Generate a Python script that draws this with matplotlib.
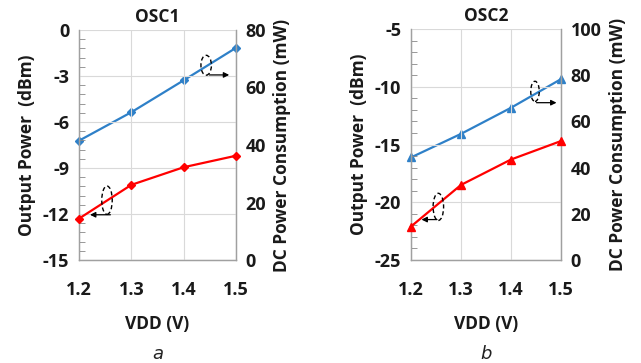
import matplotlib
matplotlib.use("Agg")
import matplotlib.pyplot as plt
from matplotlib.patches import Ellipse

plt.rcParams['font.family'] = ['Open Sans', 'DejaVu Sans']
plt.rcParams['font.weight'] = 'bold'
plt.rcParams['axes.labelweight'] = 'bold'
plt.rcParams['axes.titleweight'] = 'bold'

vdd = [1.2, 1.3, 1.4, 1.5]

# OSC1
osc1_pout = [-12.3, -10.1, -8.95, -8.2]   # dBm (left axis)
osc1_pdc = [41.5, 51.4, 62.5, 73.8]       # mW (right axis)

# OSC2
osc2_pout = [-22.1, -18.5, -16.3, -14.7]
osc2_pdc = [44.4, 54.6, 65.9, 78.3]

blue = "#2e80c8"
red = "#ff0000"
txt = "#1a1a1a"

fig = plt.figure(figsize=(6.41, 3.63), dpi=100)


def frange(a, b, step):
    out = []
    v = a
    while v <= b + 1e-9:
        out.append(round(v, 4))
        v += step
    return out


def make_panel(rect, pout, pdc, marker, msize, ylim_l, yticks_l, ylim_r, yticks_r,
               title, caption, ell_l, arr_l, ell_r, arr_r, minor_step):
    ax = fig.add_axes(rect)
    ax2 = ax.twinx()
    ax.set_zorder(ax2.get_zorder() + 1)
    ax.patch.set_visible(False)

    ax.plot(vdd, pout, color=red, lw=1.6, marker=marker, ms=msize, zorder=3, clip_on=False)
    ax2.plot(vdd, pdc, color=blue, lw=1.6, marker=marker, ms=msize, clip_on=False)

    ax.set_xlim(1.2, 1.5)
    ax.set_ylim(*ylim_l)
    ax.set_yticks(yticks_l)
    ax.set_yticklabels([str(v) for v in yticks_l])
    ax.set_yticks(frange(ylim_l[0], ylim_l[1], minor_step), minor=True)
    ax.set_xticks(vdd)
    ax.set_xticklabels(["1.2", "1.3", "1.4", "1.5"])
    ax2.set_ylim(*ylim_r)
    ax2.set_yticks(yticks_r)

    ax.grid(True, color="#d9d9d9", lw=0.8)
    ax.tick_params(axis='x', length=0, pad=15, labelsize=13, labelcolor=txt)
    ax.tick_params(axis='y', which='major', length=0, pad=7, labelsize=13, labelcolor=txt)
    ax.tick_params(axis='y', which='minor', direction='in', length=4, color="#888888")
    ax2.tick_params(axis='y', length=0, pad=7, labelsize=13, labelcolor=txt)

    for a in (ax, ax2):
        for s in a.spines.values():
            s.set_color("#a0a0a0")
            s.set_linewidth(0.9)
        a.spines['top'].set_visible(False)

    ax.set_ylabel("Output Power  (dBm)", fontsize=12.5, labelpad=5, color=txt)
    ax2.set_ylabel("DC Power Consumption (mW)", fontsize=12.5, labelpad=5, color=txt)
    ax.set_xlabel("VDD (V)", fontsize=12.5, labelpad=12, color=txt)
    ax.set_title(title, fontsize=12.5, pad=6, color=txt)
    ax.text(0.5, -0.37, caption, transform=ax.transAxes, ha='center', va='top',
            fontsize=13, style='italic', fontweight='normal', color="#222222",
            family=['DejaVu Sans'])

    for (cx, cy, w, h), (x0, x1, ya) in ((ell_l, arr_l), (ell_r, arr_r)):
        ax.add_patch(Ellipse((cx, cy), w, h, fill=False, ls=(0, (3, 2)),
                             lw=1.0, ec="black", zorder=4))
        ax.annotate("", xy=(x1, ya), xytext=(x0, ya),
                    arrowprops=dict(arrowstyle="-|>", color="black", lw=0.9,
                                    mutation_scale=8, shrinkA=0, shrinkB=0))
    return ax


make_panel([79 / 641, 103 / 363, 157 / 641, 230 / 363],
           osc1_pout, osc1_pdc, 'D', 4.0,
           (-15, 0), [-15, -12, -9, -6, -3, 0], (0, 80), [0, 20, 40, 60, 80],
           "OSC1", "a",
           (1.2535, -11.1, 0.02, 1.85), (1.26, 1.221, -12.05),
           (1.443, -2.3, 0.02, 1.3), (1.449, 1.487, -2.93), 0.6)

make_panel([411 / 641, 103 / 363, 150 / 641, 231 / 363],
           osc2_pout, osc2_pdc, '^', 5.5,
           (-25, -5), [-25, -20, -15, -10, -5], (0, 100), [0, 20, 40, 60, 80, 100],
           "OSC2", "b",
           (1.2547, -20.4, 0.021, 2.35), (1.252, 1.221, -21.5),
           (1.448, -10.4, 0.017, 1.75), (1.451, 1.491, -11.38), 1.0)

fig.savefig("out.png", dpi=100)
